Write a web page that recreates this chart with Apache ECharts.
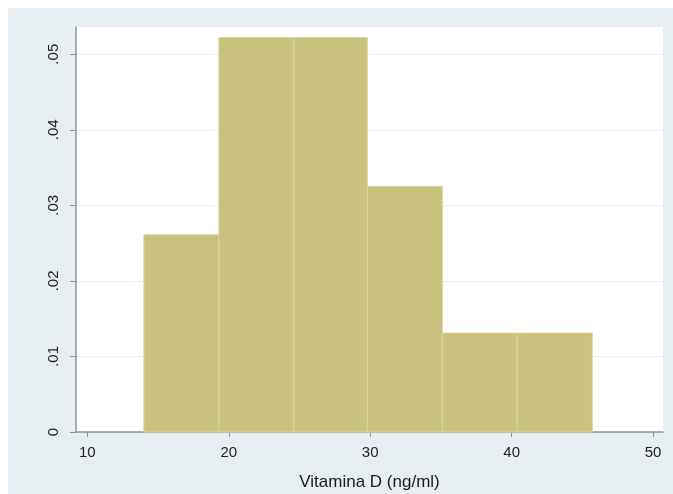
<!DOCTYPE html>
<html><head><meta charset="utf-8">
<script src="https://cdn.jsdelivr.net/npm/echarts@6/dist/echarts.min.js"></script>
<style>html,body{margin:0;padding:0;background:#fff}#c{width:673px;height:494px}</style>
</head><body><div id="c"></div>
<script>
const binEdges = [14.0, 19.3, 24.6, 29.8, 35.1, 40.4, 45.7];
const densities = [0.0261, 0.0522, 0.0522, 0.0325, 0.0131, 0.0131];
const xTicks = [10, 20, 30, 40, 50];
const yTicks = [0, 0.01, 0.02, 0.03, 0.04, 0.05];
const yTickLabels = ['0', '.01', '.02', '.03', '.04', '.05'];
const xTitle = 'Vitamina D (ng/ml)';

const data = densities.map((d, i) => [binEdges[i], binEdges[i + 1], d]);
const chart = echarts.init(document.getElementById('c'), null, {renderer: 'canvas'});
const font = 'Liberation Sans, Arial, sans-serif';
chart.setOption({
  backgroundColor: '#ffffff',
  animation: false,
  graphic: [{type: 'rect', z: -10, shape: {x: 8, y: 8, width: 665, height: 486}, style: {fill: '#e7eef1'}}],
  grid: {left: 76, top: 27, right: 10, bottom: 62, show: true, backgroundColor: '#ffffff', borderWidth: 0,
    containLabel: false, outerBoundsMode: 'none'},
  xAxis: {
    type: 'value', min: 9.2, max: 50.7,
    name: xTitle, nameLocation: 'middle', nameGap: 42,
    nameTextStyle: {fontFamily: font, fontSize: 17, color: '#1a1a1a'},
    axisLine: {show: true, lineStyle: {color: '#8a9494', width: 1.5}},
    axisTick: {show: true, length: 5, customValues: xTicks, lineStyle: {color: '#8a9494'}},
    axisLabel: {customValues: xTicks, margin: 13, fontFamily: font, fontSize: 15, color: '#222'},
    splitLine: {show: false}
  },
  yAxis: {
    type: 'value', min: 0, max: 0.0536,
    axisLine: {show: true, lineStyle: {color: '#8a9494', width: 1.5}},
    axisTick: {show: true, length: 6, customValues: yTicks, lineStyle: {color: '#8a9494'}},
    axisLabel: {customValues: yTicks, rotate: 90, margin: 15, fontFamily: font, fontSize: 15, color: '#222',
      formatter: v => { const i = yTicks.findIndex(t => Math.abs(t - v) < 1e-9); return i >= 0 ? yTickLabels[i] : ''; }},
    splitLine: {show: true, lineStyle: {color: '#e9eded', width: 1}}
  },
  series: [{
    type: 'custom',
    data: data,
    encode: {x: [0, 1], y: 2},
    renderItem: function (params, api) {
      const p0 = api.coord([api.value(0), api.value(2)]);
      const p1 = api.coord([api.value(1), 0]);
      return {
        type: 'rect',
        shape: {x: p0[0], y: p0[1], width: p1[0] - p0[0], height: p1[1] - p0[1]},
        style: {fill: '#c8c27d', stroke: '#d9d5a2', lineWidth: 1}
      };
    }
  }]
});
</script></body></html>
